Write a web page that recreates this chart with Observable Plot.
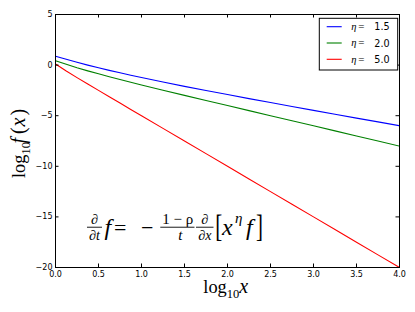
<!DOCTYPE html>
<html><head><meta charset="utf-8">
<script src="https://cdn.jsdelivr.net/npm/d3@7"></script>
<script src="https://cdn.jsdelivr.net/npm/@observablehq/plot@0.6"></script>
<style>html,body{margin:0;padding:0;background:#fff}</style>
</head><body><div id="chart"></div>
<script>
// ---- data ----
const logX = [0, 0.125, 0.25, 0.375, 0.5, 0.625, 0.75, 0.875, 1, 1.25, 1.5, 1.75, 2, 2.25, 2.5, 2.75, 3, 3.25, 3.5, 3.75, 4];
const etaLabels = ["1.5", "2.0", "5.0"];
const seriesEta15 = [0.87, 0.57, 0.28, 0.00, -0.26, -0.52, -0.76, -1.00, -1.23, -1.67, -2.10, -2.51, -2.91, -3.31, -3.70, -4.09, -4.47, -4.85, -5.24, -5.61, -5.99];
const seriesEta20 = [0.43, 0.08, -0.26, -0.57, -0.86, -1.15, -1.42, -1.69, -1.96, -2.48, -2.99, -3.49, -4.00, -4.50, -5.00, -5.50, -6.00, -6.50, -7.00, -7.50, -8.00];
const seriesEta50 = [0.11, -0.59, -1.24, -1.87, -2.50, -3.13, -3.75, -4.38, -5.00, -6.25, -7.50, -8.75, -10.00, -11.25, -12.50, -13.75, -15.00, -16.25, -17.50, -18.75, -20.00];
const lineColors = ["#0000ff", "#008000", "#ff0000"];
const xTicks = [0, 0.5, 1, 1.5, 2, 2.5, 3, 3.5, 4];
const yTicks = [-20, -15, -10, -5, 0, 5];
const eqAnchor = {x: 0.372, y: -16.07};

// ---- layout ----
const W = 415, H = 312;
const mL = 55, mR = 16, mT = 14, mB = 45;
const frameW = W - mL - mR, frameH = H - mT - mB;
const TL = 3.5; // tick length (inward)
const SERIF = "'Liberation Serif','DejaVu Serif',serif";
const SANS = "'DejaVu Sans',sans-serif";

const allSeries = [seriesEta15, seriesEta20, seriesEta50];
const rows = [];
allSeries.forEach((s, k) => s.forEach((v, i) => rows.push({x: logX[i], y: v, eta: etaLabels[k]})));

const minus = d => (d < 0 ? "\u2212" + Math.abs(d) : String(d));

function txt(parent, x, y, s, o = {}) {
  const t = parent.append("text")
    .attr("x", x).attr("y", y)
    .attr("font-family", o.family || SERIF)
    .attr("font-size", o.size || 22)
    .attr("text-anchor", o.anchor || "start")
    .attr("fill", "black")
    .text(s);
  if (o.italic) t.attr("font-style", "italic");
  if (o.transform) t.attr("transform", o.transform);
  return t;
}

function annotations(index, scales, values, dims) {
  const g = d3.create("svg:g");
  const sx = scales.x, sy = scales.y;

  // --- legend ---
  const bx2 = sx(4) - 1.3, bx1 = bx2 - 78.4, by1 = sy(5) + 4.3, bh = 51.7;
  const lg = g.append("g");
  lg.append("rect").attr("x", bx1).attr("y", by1).attr("width", bx2 - bx1).attr("height", bh)
    .attr("fill", "white").attr("stroke", "black").attr("stroke-width", 1);
  etaLabels.forEach((lab, i) => {
    const ry = by1 + 8.4 + i * 16.3;
    lg.append("line").attr("x1", bx1 + 7.4).attr("x2", bx1 + 22.4).attr("y1", ry).attr("y2", ry)
      .attr("stroke", lineColors[i]).style("stroke", lineColors[i]).attr("stroke-width", 1.1);
    txt(lg, bx1 + 32, ry + 3.2, "\u03b7", {size: 10.5, italic: true});
    txt(lg, bx1 + 39, ry + 3.4, "=", {size: 11});
    txt(lg, bx1 + 55, ry + 3.5, lab, {size: 9.6, family: SANS});
  });

  // --- equation ---
  const ax = sx(eqAnchor.x), ay = sy(eqAnchor.y);
  const eq = g.append("g").attr("transform", `translate(${ax},${ay})`);
  const bar = (x1, x2) => eq.append("line").attr("x1", x1).attr("x2", x2).attr("y1", 0).attr("y2", 0)
    .attr("stroke", "black").attr("stroke-width", 0.9);
  // d/dt
  txt(eq, 7.5, -3.6, "\u2202", {size: 14, anchor: "middle", italic: true});
  bar(0, 15);
  txt(eq, 7.5, 12.8, "\u2202t", {size: 14, anchor: "middle", italic: true});
  txt(eq, 17.5, 7.5, "f", {size: 24, italic: true});
  txt(eq, 27, 7.5, "=", {size: 22});
  txt(eq, 54, 7.5, "\u2212", {size: 22});
  // (1-rho)/t
  txt(eq, 90.8, -3, "1 \u2212 \u03c1", {size: 15, anchor: "middle"});
  bar(73.3, 107.5);
  txt(eq, 93.3, 12.6, "t", {size: 15, anchor: "middle", italic: true});
  // d/dx
  txt(eq, 117.8, -3.6, "\u2202", {size: 14, anchor: "middle", italic: true});
  bar(109, 126.5);
  txt(eq, 117.8, 12.8, "\u2202x", {size: 14, anchor: "middle", italic: true});
  // [x^eta f]
  txt(eq, 0, 0, "[", {size: 21, transform: "translate(128.3,9.6) scale(1,1.5)"});
  txt(eq, 135, 7.5, "x", {size: 24, italic: true});
  txt(eq, 148, -4.5, "\u03b7", {size: 15, italic: true});
  txt(eq, 159, 7.5, "f", {size: 24, italic: true});
  txt(eq, 0, 0, "]", {size: 21, transform: "translate(169,9.6) scale(1,1.5)"});

  // --- x axis label: log10 x ---
  const xl = g.append("g").attr("transform", `translate(203.3,${H - 18.7})`);
  txt(xl, 0, 0, "log", {size: 18.4});
  txt(xl, 23.4, 5, "10", {size: 12.5});
  txt(xl, 36, 0, "x", {size: 20, italic: true});

  // --- y axis label: log10 f(x) ---
  const yl = g.append("g").attr("transform", `translate(24.9,178) rotate(-90)`);
  txt(yl, 0, 0, "log", {size: 18.4});
  txt(yl, 23.4, 5, "10", {size: 12.5});
  txt(yl, 34.5, 0, "f", {size: 20, italic: true});
  txt(yl, 44, 0, "(", {size: 20});
  txt(yl, 51.5, 0, "x", {size: 20, italic: true});
  txt(yl, 62.5, 0, ")", {size: 20});

  return g.node();
}

const chart = Plot.plot({
  width: W, height: H,
  marginLeft: mL, marginRight: mR, marginTop: mT, marginBottom: mB,
  style: {fontFamily: SANS, fontSize: "8px", background: "white", color: "black"},
  x: {domain: [0, 4], label: null},
  y: {domain: [-20, 5], label: null},
  color: {domain: etaLabels, range: lineColors},
  marks: [
    Plot.line(rows, {x: "x", y: "y", stroke: "eta", strokeWidth: 1.1, clip: true}),
    Plot.tickX(xTicks, {x: d => d, insetTop: frameH - TL, stroke: "black", strokeWidth: 1}),
    Plot.tickX(xTicks, {x: d => d, insetBottom: frameH - TL, stroke: "black", strokeWidth: 1}),
    Plot.tickY(yTicks, {y: d => d, insetRight: frameW - TL, stroke: "black", strokeWidth: 1}),
    Plot.tickY(yTicks, {y: d => d, insetLeft: frameW - TL, stroke: "black", strokeWidth: 1}),
    Plot.frame({stroke: "black", strokeWidth: 1}),
    Plot.axisX(xTicks, {tickSize: 0, tickPadding: 4, tickFormat: d => d.toFixed(1), label: null, fontSize: 8}),
    Plot.axisY(yTicks, {tickSize: 0, tickPadding: 3, tickFormat: minus, label: null, fontSize: 8}),
    annotations
  ]
});
document.getElementById("chart").appendChild(chart);
</script>
</body></html>
